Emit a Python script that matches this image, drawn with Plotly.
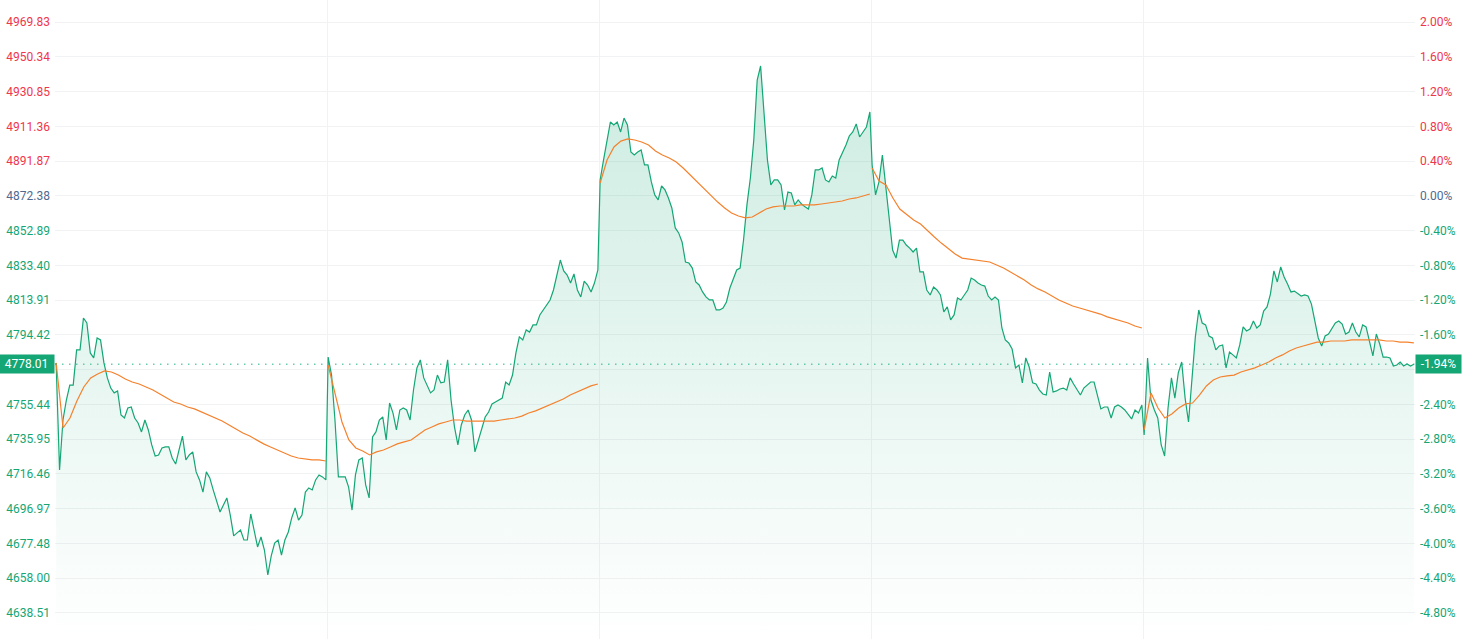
import plotly.graph_objects as go

pre_close = 4872.38
last_price = 4778.01
pct_ticks = [2.0, 1.6, 1.2, 0.8, 0.4, 0.0, -0.4, -0.8, -1.2, -1.6, -2.0, -2.4, -2.8, -3.2, -3.6, -4.0, -4.4, -4.8]

day1_price = [4778.7, 4718.7, 4746.7, 4757.9, 4766.3, 4766.3, 4786.0, 4786.0, 4803.9, 4801.1,
              4784.3, 4781.5, 4792.7, 4791.6, 4778.7, 4770.3, 4764.6, 4761.9, 4763.0, 4749.5,
              4747.8, 4753.4, 4754.0, 4747.8, 4745.0, 4740.0, 4746.7, 4741.1, 4732.7, 4726.5,
              4727.1, 4731.0, 4731.6, 4731.6, 4725.4, 4722.0, 4729.9, 4737.7, 4724.3, 4727.1,
              4728.8, 4717.6, 4713.1, 4706.3, 4717.6, 4714.2, 4707.5, 4701.9, 4695.1, 4699.1,
              4703.0, 4693.4, 4681.7, 4683.4, 4685.0, 4679.4, 4679.4, 4694.0, 4683.9, 4675.5,
              4681.1, 4673.8, 4659.8, 4670.5, 4677.7, 4679.4, 4671.0, 4679.4, 4683.9, 4691.8,
              4697.4, 4690.6, 4693.4, 4706.3, 4708.6, 4707.5, 4713.1, 4715.9, 4714.8, 4713.1]
day2_price = [4782.0, 4771.9, 4746.7, 4714.8, 4714.8, 4714.8, 4709.1, 4696.2, 4715.9, 4724.3,
              4725.4, 4710.3, 4703.0, 4737.2, 4740.0, 4746.7, 4748.4, 4735.5, 4756.2, 4750.6,
              4741.1, 4752.3, 4753.4, 4752.3, 4746.7, 4763.5, 4775.9, 4780.4, 4770.3, 4766.3,
              4761.9, 4763.5, 4771.9, 4767.5, 4768.0, 4780.4, 4757.9, 4742.8, 4732.7, 4743.9,
              4749.5, 4752.3, 4746.7, 4728.8, 4735.5, 4742.8, 4748.4, 4751.2, 4755.7, 4756.8,
              4757.9, 4759.0, 4768.0, 4766.3, 4771.9, 4784.3, 4793.3, 4791.6, 4797.2, 4796.0,
              4800.0, 4800.0, 4805.6, 4808.4, 4811.2, 4814.0, 4819.6, 4828.0, 4836.4, 4830.3,
              4828.0, 4823.5, 4828.6, 4819.6, 4815.7, 4824.6, 4822.4, 4818.5, 4823.5, 4830.8]
day3_price = [4881.3, 4892.5, 4903.7, 4913.8, 4912.1, 4913.8, 4908.2, 4916.0, 4912.1, 4897.0,
              4895.3, 4897.0, 4898.1, 4889.7, 4889.7, 4880.2, 4872.9, 4870.1, 4877.9, 4875.7,
              4871.2, 4865.6, 4854.4, 4851.6, 4846.5, 4835.3, 4834.7, 4831.9, 4824.1, 4822.4,
              4818.5, 4815.7, 4814.0, 4814.0, 4808.4, 4808.4, 4809.5, 4812.9, 4820.7, 4826.3,
              4830.8, 4831.9, 4847.6, 4867.3, 4882.4, 4903.7, 4937.3, 4945.2, 4917.7, 4892.5,
              4878.5, 4881.3, 4881.3, 4878.5, 4864.5, 4874.5, 4874.0, 4867.3, 4870.1, 4867.8,
              4866.2, 4865.0, 4872.9, 4886.9, 4886.9, 4888.0, 4881.3, 4880.2, 4883.5, 4882.4,
              4892.5, 4896.4, 4900.9, 4906.0, 4908.2, 4912.7, 4905.4, 4908.2, 4911.0, 4919.4]
day4_price = [4889.7, 4872.9, 4880.2, 4895.3, 4878.5, 4860.5, 4842.0, 4837.5, 4847.6, 4847.6,
              4844.8, 4843.1, 4840.9, 4843.1, 4829.7, 4829.7, 4819.6, 4816.8, 4821.3, 4819.6,
              4816.8, 4807.3, 4810.1, 4802.8, 4805.6, 4815.1, 4814.0, 4816.8, 4819.6, 4826.3,
              4825.2, 4823.5, 4822.4, 4821.8, 4816.2, 4814.0, 4815.7, 4814.0, 4798.3, 4791.6,
              4789.9, 4786.5, 4775.9, 4777.5, 4767.5, 4781.5, 4776.4, 4767.5, 4766.9, 4763.5,
              4761.3, 4760.7, 4773.6, 4762.4, 4763.0, 4764.1, 4764.6, 4763.5, 4770.3, 4766.9,
              4763.5, 4760.7, 4764.6, 4766.3, 4768.0, 4768.0, 4760.2, 4752.9, 4754.0, 4754.0,
              4747.8, 4754.0, 4755.1, 4754.0, 4752.3, 4750.1, 4747.3, 4752.3, 4750.6, 4755.1]
day5_price = [4738.3, 4781.5, 4757.9, 4752.3, 4747.8, 4732.7, 4726.5, 4753.4, 4770.3, 4759.0,
              4773.1, 4779.2, 4759.0, 4745.6, 4770.3, 4793.3, 4808.4, 4801.1, 4800.0, 4793.8,
              4792.7, 4786.0, 4788.2, 4788.8, 4775.9, 4784.8, 4783.2, 4781.5, 4788.8, 4798.9,
              4796.6, 4797.7, 4802.2, 4798.3, 4800.0, 4807.8, 4810.1, 4817.4, 4830.3, 4824.1,
              4832.5, 4826.9, 4823.0, 4818.5, 4819.0, 4817.4, 4816.2, 4816.8, 4816.2, 4811.7,
              4801.7, 4792.7, 4788.2, 4793.8, 4794.9, 4798.3, 4801.1, 4802.2, 4800.5, 4794.9,
              4796.0, 4801.1, 4796.0, 4793.3, 4800.0, 4798.9, 4789.9, 4782.6, 4794.9, 4789.3,
              4782.0, 4782.0, 4781.5, 4777.0, 4777.5, 4779.2, 4777.0, 4778.1, 4777.0, 4778.01]

day1_avg = [4778.7, 4742.2, 4747.8, 4757.4, 4765.2, 4770.3, 4772.5, 4774.2, 4773.6, 4771.9,
            4769.7, 4768.0, 4766.9, 4765.2, 4763.5, 4761.3, 4759.0, 4756.8, 4755.7, 4754.0,
            4752.9, 4751.2, 4749.5, 4747.8, 4746.1, 4743.9, 4741.7, 4739.4, 4737.7, 4735.5,
            4733.3, 4731.6, 4729.9, 4728.2, 4726.5, 4725.4, 4724.8, 4724.3, 4724.3, 4723.7]
day2_avg = [4777.5, 4760.7, 4745.6, 4735.5, 4731.0, 4729.3, 4727.1, 4728.8, 4729.9, 4731.6,
            4733.3, 4734.4, 4735.5, 4738.3, 4741.1, 4742.8, 4744.5, 4745.6, 4746.7, 4746.7,
            4746.1, 4746.1, 4746.1, 4746.1, 4746.1, 4746.7, 4747.3, 4747.8, 4748.9, 4750.6,
            4751.8, 4753.4, 4755.1, 4756.8, 4758.5, 4760.7, 4762.4, 4764.1, 4765.8, 4766.9]
day3_avg = [4879.6, 4892.5, 4899.8, 4903.1, 4904.3, 4903.7, 4902.6, 4900.9, 4897.5, 4895.3,
            4893.6, 4891.4, 4888.0, 4884.1, 4880.2, 4876.8, 4872.9, 4868.9, 4865.6, 4862.8,
            4861.1, 4860.0, 4860.5, 4862.8, 4865.0, 4866.2, 4866.7, 4866.7, 4866.7, 4867.3,
            4867.3, 4867.3, 4867.8, 4868.4, 4868.9, 4869.5, 4870.6, 4871.2, 4872.3, 4873.4]
day4_avg = [4888.0, 4880.7, 4878.5, 4871.2, 4865.0, 4861.7, 4858.8, 4856.6, 4852.7, 4849.3,
            4845.9, 4842.6, 4839.8, 4837.5, 4837.0, 4836.4, 4835.9, 4835.3, 4833.6, 4831.9,
            4829.7, 4827.5, 4825.2, 4822.4, 4820.2, 4818.5, 4816.2, 4814.0, 4812.3, 4810.6,
            4809.5, 4808.4, 4807.3, 4806.1, 4804.5, 4803.3, 4802.2, 4801.1, 4799.4, 4798.3]
day5_avg = [4741.1, 4761.9, 4753.4, 4747.8, 4750.1, 4753.4, 4755.7, 4756.2, 4760.7, 4765.8,
            4769.1, 4770.8, 4771.4, 4771.9, 4773.6, 4774.7, 4775.9, 4777.5, 4779.2, 4781.5,
            4783.2, 4785.4, 4787.1, 4788.2, 4789.3, 4790.4, 4790.4, 4791.0, 4791.0, 4791.0,
            4791.6, 4791.6, 4791.6, 4791.6, 4791.6, 4791.0, 4791.0, 4790.4, 4790.4, 4789.9]

price_days = [day1_price, day2_price, day3_price, day4_price, day5_price]
avg_days = [day1_avg, day2_avg, day3_avg, day4_avg, day5_avg]

MIN_PER_DAY = 240
GREEN = "#14a674"
RED = "#f0364c"
NEUTRAL = "#50698f"
ORANGE = "#f5812c"
GRID = "#f1f2f4"

# x positions in trading minutes
px, py = [], []
for d, vals in enumerate(price_days):
    step = (MIN_PER_DAY - 2) / (len(vals) - 1)
    for i, v in enumerate(vals):
        px.append(d * MIN_PER_DAY + 1 + step * i)
        py.append(v)

ax, ay = [], []
for d, vals in enumerate(avg_days):
    step = (MIN_PER_DAY - 2) / (len(vals) - 1)
    for i, v in enumerate(vals):
        ax.append(d * MIN_PER_DAY + 1 + step * i)
        ay.append(v)
    ax.append(None)
    ay.append(None)

y_top = 4982.2
y_bot = 4623.9

fig = go.Figure()
fig.add_trace(go.Scatter(
    x=px, y=py, mode="lines",
    line=dict(color=GREEN, width=1.2),
    fill="tozeroy",
    fillgradient=dict(type="vertical",
                      colorscale=[[0, "rgba(20,166,116,0.0)"], [1, "rgba(20,166,116,0.22)"]],
                      start=y_bot, stop=4950),
    hoverinfo="skip", showlegend=False,
))
fig.add_trace(go.Scatter(
    x=ax, y=ay, mode="lines", connectgaps=False,
    line=dict(color=ORANGE, width=1.2),
    hoverinfo="skip", showlegend=False,
))


def color_for(p):
    if p > 0:
        return RED
    if p < 0:
        return GREEN
    return NEUTRAL


last_pct = (last_price / pre_close - 1) * 100
left_vals = [pre_close * (1 + p / 100) for p in pct_ticks]
# the tick label sitting under the last-price tag is hidden by the tag
left_text = ['' if abs(p - last_pct) < 0.1 else
             '<span style="color:%s">%.2f</span>' % (color_for(p), v)
             for p, v in zip(pct_ticks, left_vals)]
right_text = ['' if abs(p - last_pct) < 0.1 else
              '<span style="color:%s">%.2f%%</span>' % (color_for(p), p)
              for p in pct_ticks]

pct_top = (y_top / pre_close - 1) * 100
pct_bot = (y_bot / pre_close - 1) * 100

fig.add_trace(go.Scatter(x=[0], y=[0], yaxis="y2", mode="markers",
                         marker=dict(opacity=0), hoverinfo="skip", showlegend=False))

fig.update_layout(
    width=1474, height=639,
    margin=dict(l=55, r=59, t=0, b=0, autoexpand=False),
    paper_bgcolor="white", plot_bgcolor="white",
    font=dict(family="Roboto, sans-serif", size=12),
    xaxis=dict(range=[0, 5 * MIN_PER_DAY], tickvals=[d * MIN_PER_DAY for d in range(6)],
               showticklabels=False, showgrid=True, gridcolor=GRID, gridwidth=1,
               zeroline=False, showline=False, fixedrange=True),
    yaxis=dict(range=[y_bot, y_top], tickvals=left_vals, ticktext=left_text,
               showgrid=True, gridcolor=GRID, gridwidth=1, zeroline=False,
               ticks="", ticklabelstandoff=4, tickfont=dict(size=12), automargin=False),
    yaxis2=dict(range=[pct_bot, pct_top], overlaying="y", side="right",
                tickvals=pct_ticks, ticktext=right_text, showgrid=False,
                zeroline=False, ticks="", ticklabelstandoff=4, tickfont=dict(size=12),
                automargin=False),
    shapes=[dict(type="line", xref="paper", x0=0, x1=1, yref="y", y0=last_price, y1=last_price,
                 line=dict(color="#1fb08a", width=1, dash="1.5px,5.5px"))],
    annotations=[
        dict(xref="paper", x=0, xanchor="right", yref="y", y=last_price, yanchor="middle",
             text="%.2f" % last_price, showarrow=False, font=dict(color="white", size=12),
             bgcolor=GREEN, width=51, height=14, borderpad=2),
        dict(xref="paper", x=1, xanchor="left", yref="y", y=last_price, yanchor="middle",
             text="%.2f%%" % last_pct, showarrow=False,
             font=dict(color="white", size=12),
             bgcolor=GREEN, width=41, height=14, borderpad=2),
    ],
    hovermode=False,
)

fig.write_html("out.html", config={"displayModeBar": False, "staticPlot": True},
               post_script="document.body.style.margin='0px';document.body.style.overflow='hidden';")
